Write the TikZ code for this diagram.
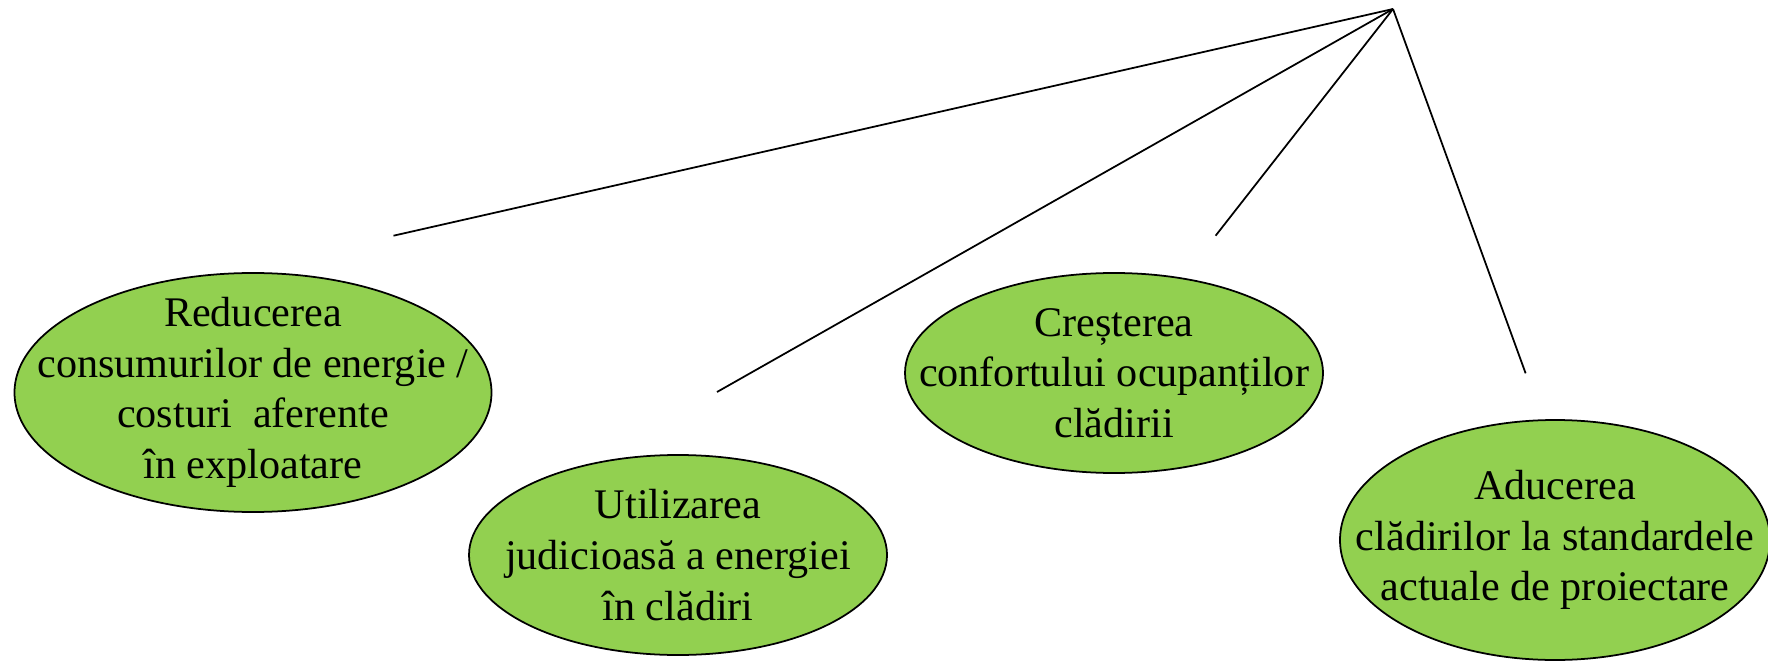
\documentclass[tikz,border=0pt]{standalone}
\usepackage{fontspec}
\setmainfont{Liberation Serif}
\usepackage{xcolor}
\usetikzlibrary{shapes.geometric}
\definecolor{goalgreen}{HTML}{92D050}

\begin{document}
\begin{tikzpicture}[goal/.style={draw, ellipse, fill=goalgreen, line width=0.5pt, inner xsep=-1cm, inner ysep=-0.4cm, align=center, font=\fontsize{12}{14.4}\selectfont},
                    spoke/.style={line width=0.5pt}]
          \useasboundingbox (0,0) rectangle (17.68,6.61);

          % Goals
          \node[goal, minimum width=4.77cm, minimum height=2.39cm] (reduce) at (2.53, 2.685)
            {Reducerea\\consumurilor de energie /\\costuri~~aferente\\în exploatare};
          \node[goal, minimum width=4.18cm, minimum height=2.00cm] (use) at (6.78, 1.06)
            {Utilizarea\\judicioasă a energiei\\în clădiri};
          \node[goal, minimum width=4.18cm, minimum height=2.00cm] (comfort) at (11.14, 2.88)
            {Creșterea\\confortului ocupanților\\clădirii};
          \node[goal, minimum width=4.30cm, minimum height=2.40cm] (standard) at (15.55, 1.21)
            {Aducerea\\clădirilor la standardele\\actuale de proiectare};

          % Spokes
          \coordinate (apex) at (13.93, 6.52);
          \coordinate (end1) at (3.935, 4.253);
          \coordinate (end2) at (7.17, 2.69);
          \coordinate (end3) at (12.156, 4.253);
          \coordinate (end4) at (15.256, 2.877);

          \draw[spoke] (apex) -- (end1);
          \draw[spoke] (apex) -- (end2);
          \draw[spoke] (apex) -- (end3);
          \draw[spoke] (apex) -- (end4);
      \end{tikzpicture}
\end{document}
